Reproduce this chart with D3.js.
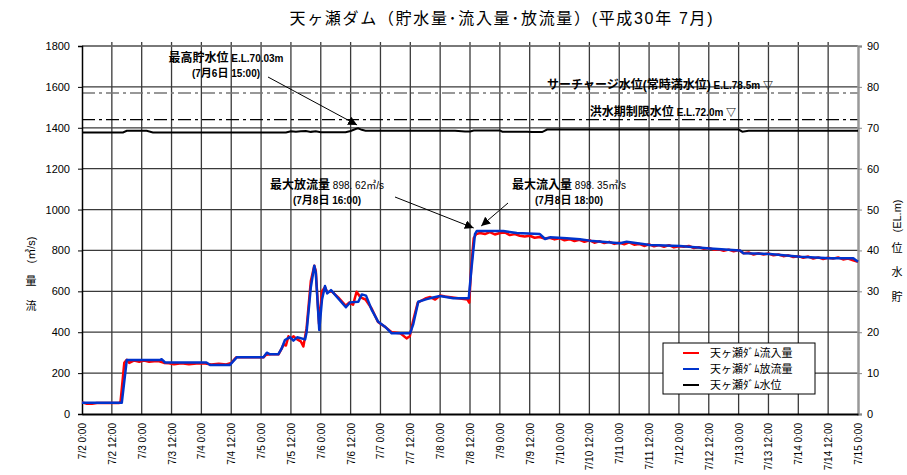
<!DOCTYPE html>
<html><head><meta charset="utf-8">
<script src="https://cdn.jsdelivr.net/npm/d3@7"></script>
<style>
body{margin:0;background:#fff;}
text{font-family:"Liberation Sans","Noto Sans CJK JP",sans-serif;}
</style></head>
<body><svg id="c" width="907" height="475"></svg>
<script>
// ---- data (hours from 7/2 0:00) ----
const xTickLabels = ["7/2 0:00","7/2 12:00","7/3 0:00","7/3 12:00","7/4 0:00","7/4 12:00","7/5 0:00","7/5 12:00","7/6 0:00","7/6 12:00","7/7 0:00","7/7 12:00","7/8 0:00","7/8 12:00","7/9 0:00","7/9 12:00","7/10 0:00","7/10 12:00","7/11 0:00","7/11 12:00","7/12 0:00","7/12 12:00","7/13 0:00","7/13 12:00","7/14 0:00","7/14 12:00","7/15 0:00"];
const leftTicks = [0,200,400,600,800,1000,1200,1400,1600,1800];
const rightTicks = [0,10,20,30,40,50,60,70,80,90];

const outflowHours = [0,16,18,31.4,32,33.4,50,51.5,59.5,60.2,62.2,72.9,74.3,75.6,78.9,80.3,81.6,83.6,85,86.5,89.7,90.3,92,93.4,94,95.4,96.5,97.7,98.6,100.1,106.1,107.8,111.1,112.5,114.2,116.5,119.1,121.8,124.5,131.9,133.2,135.2,138.6,141.2,143.9,149.3,155.5,156.5,158,158.7,169.4,174.8,184.1,186.2,188.2,194.9,200.2,204.2,216.3,219,228.4,240.4,252.5,264.6,265.9,276.6,288.7,300.7,310.1,312];
const outflowValues = [55,55,264,264,268,252,252,240,240,250,277,277,300,292,292,321,362,376,359,375,365,400,620,725,690,411,560,626,590,606,522,546,549,585,579,509,451,427,395,395,440,549,562,570,577,566,566,700,880,895,895,885,880,856,864,860,855,848,835,843,827,822,810,800,786,783,769,762,762,745];

const inflowHours = [0,2,4,6,15,15.5,17,18,19,21,23,25,27,29,31,33,35,37,40,43,46,49,52,55,58,60,62,73,74,76,79,80.5,81,82,83,84,85,86.5,88,89,90.3,92,93.4,94,95.3,96.5,97.7,98.6,100.4,103,106,107.5,109,110.4,112,114,116.5,119,122,124.5,128,130.5,131.8,133,135,138,140,142,144,146,149,152,155,155.7,156.5,157.5,158.5,160,162,164,166,168,170,172,174,176,178,180,182,184,186,188,190,192,194,196,198,200,202,204,206,208,210,212,214,216,218,220,222,224,226,228,230,232,234,236,238,240,242,244,246,248,250,252,254,256,258,260,262,264,266,268,270,272,274,276,278,280,282,284,286,288,290,292,294,296,298,300,302,304,306,308,310,312];
const inflowValues = [57,50,50,54,54,60,250,265,250,262,256,262,255,258,258,250,248,243,248,243,247,248,242,246,242,250,277,277,290,292,292,325,340,335,380,368,380,365,355,330,420,650,725,700,440,600,620,595,600,570,530,545,535,598,570,560,515,450,425,400,395,370,380,450,545,565,572,560,580,575,570,565,560,545,720,860,880,885,880,890,878,885,888,875,880,872,868,872,862,866,858,862,854,860,850,855,846,852,842,850,838,845,836,842,832,838,830,840,828,832,822,830,820,826,818,826,815,820,818,822,812,816,808,812,804,805,798,804,796,802,786,790,780,786,780,785,776,780,772,776,768,772,764,770,760,766,758,764,760,766,756,760,752,745];

const levelHours = [0,16.5,18,26,28.5,82,84,86,88,90,92,94,96,106,108,110,111,112.5,114,150,154,156,157.5,168,169,179,181,185,187,264,265.5,268,312];
const levelValues = [68.85,68.85,69.25,69.25,68.85,68.85,69.15,69.0,69.15,69.2,69.0,69.15,68.9,68.9,69.2,69.7,69.85,69.5,69.3,69.3,69.1,69.1,69.35,69.35,69.05,69.05,68.95,68.95,69.55,69.55,69.05,69.25,69.25];

const surchargeLevel = 78.5, floodLimitLevel = 72.0;
const seriesNames = ["天ヶ瀬ﾀﾞﾑ流入量","天ヶ瀬ﾀﾞﾑ放流量","天ヶ瀬ﾀﾞﾑ水位"];
const seriesColors = ["#ff0000","#0033cc","#000000"];

// ---- layout ----
const svg = d3.select("#c");
const L = 82, R = 858, T = 46, B = 414;
const x = d3.scaleLinear().domain([0,312]).range([L,R]);
const y = d3.scaleLinear().domain([0,1800]).range([B,T]);
const y2 = d3.scaleLinear().domain([0,90]).range([B,T]);
const xTickVals = xTickLabels.map((d,i)=>i*12);

// grid
const g = svg.append("g");
g.selectAll(".hg").data(leftTicks.slice(1)).join("line")
  .attr("x1",L).attr("x2",R).attr("y1",d=>y(d)).attr("y2",d=>y(d))
  .attr("stroke","#3a3a3a").attr("stroke-width",1.3);
g.selectAll(".vg").data(xTickVals.slice(1,-1)).join("line")
  .attr("x1",d=>x(d)).attr("x2",d=>x(d)).attr("y1",T-4).attr("y2",B)
  .attr("stroke","#3a3a3a").attr("stroke-width",1.3);
g.append("line").attr("x1",L).attr("x2",R).attr("y1",T).attr("y2",T).attr("stroke","#888").attr("stroke-width",1);

// reference levels
g.append("line").attr("x1",L).attr("x2",R).attr("y1",y2(surchargeLevel)).attr("y2",y2(surchargeLevel))
  .attr("stroke","#777").attr("stroke-width",1.3).attr("stroke-dasharray","13,4,3,4");
g.append("line").attr("x1",L).attr("x2",R).attr("y1",y2(floodLimitLevel)).attr("y2",y2(floodLimitLevel))
  .attr("stroke","#000").attr("stroke-width",1.2).attr("stroke-dasharray","13,4,3,4");

// axes
const axL = d3.axisLeft(y).tickValues(leftTicks).tickSize(4).tickFormat(d=>d);
const gl = svg.append("g").attr("transform",`translate(${L},0)`).call(axL);
gl.select(".domain").attr("stroke","#000").attr("stroke-width",1.5);
gl.selectAll("text").attr("font-size",11).attr("fill","#000").attr("x",-12);
const axR = d3.axisRight(y2).tickValues(rightTicks).tickSize(4).tickFormat(d=>d);
const gr = svg.append("g").attr("transform",`translate(${R},0)`).call(axR);
gr.select(".domain").attr("stroke","#999").attr("stroke-width",2.5);
gr.selectAll("line").attr("stroke","#888");
gr.selectAll("text").attr("font-size",11).attr("fill","#000").attr("x",9);
const axB = d3.axisBottom(x).tickValues(xTickVals).tickSize(0).tickFormat((d,i)=>xTickLabels[i]);
const gb = svg.append("g").attr("transform",`translate(0,${B})`).call(axB);
gb.select(".domain").attr("stroke","#000").attr("stroke-width",2);
gb.selectAll("text").attr("font-size",10).attr("fill","#000")
  .attr("transform","rotate(-90)").attr("text-anchor","end").attr("dy","0.35em").attr("x",-9).attr("y",0);

// series
const line = d3.line().x(d=>x(d[0])).y(d=>y(d[1]));
const line2 = d3.line().x(d=>x(d[0])).y(d=>y2(d[1]));
svg.append("path").datum(levelHours.map((h,i)=>[h,levelValues[i]])).attr("d",line2)
  .attr("fill","none").attr("stroke",seriesColors[2]).attr("stroke-width",2);
svg.append("path").datum(inflowHours.map((h,i)=>[h,inflowValues[i]])).attr("d",line)
  .attr("fill","none").attr("stroke",seriesColors[0]).attr("stroke-width",2.5).attr("stroke-linejoin","round");
svg.append("path").datum(outflowHours.map((h,i)=>[h,outflowValues[i]])).attr("d",line)
  .attr("fill","none").attr("stroke",seriesColors[1]).attr("stroke-width",2.5).attr("stroke-linejoin","round");

// title
svg.append("text").attr("x",501).attr("y",24).attr("text-anchor","middle").attr("font-size",16)
  .attr("textLength",423).attr("lengthAdjust","spacing")
  .text("天ヶ瀬ダム（貯水量･流入量･放流量）(平成30年 7月)");

// axis titles
function vlabel(cx, chars, cys, rotText, rotY){
  chars.forEach((c,i)=>svg.append("text").attr("x",cx).attr("y",cys[i]).attr("text-anchor","middle")
    .attr("dominant-baseline","central").attr("font-size",11).text(c));
  svg.append("text").attr("transform",`translate(${cx},${rotY}) rotate(-90)`).attr("text-anchor","middle")
    .attr("dominant-baseline","central").attr("font-size",11).text(rotText);
}
vlabel(31,["流","量"],[306,281],"(㎥/s)",250);
vlabel(897,["貯","水","位"],[297,272,248],"(EL.m)",216);

// annotations
svg.append("defs").append("marker").attr("id","ah").attr("viewBox","0 0 10 10").attr("refX",10).attr("refY",5)
  .attr("markerWidth",9).attr("markerHeight",9).attr("markerUnits","userSpaceOnUse").attr("orient","auto")
  .append("path").attr("d","M0,0L10,5L0,10z").attr("fill","#000");
function note(xs, ys, parts){
  const t = svg.append("text").attr("x",xs).attr("y",ys).attr("text-anchor","middle").attr("fill","#000");
  parts.forEach(p=>t.append("tspan").attr("font-size",p[1]).attr("font-weight",p[2]||"normal").text(p[0]));
}
function arrow(x1,y1,x2,y2){
  svg.append("line").attr("x1",x1).attr("y1",y1).attr("x2",x2).attr("y2",y2)
    .attr("stroke","#000").attr("stroke-width",1).attr("marker-end","url(#ah)");
}
note(226,62,[["最高貯水位",12,"bold"],[" E.L.70.03m",10,"bold"]]);
note(226,77,[["(7",10,"bold"],["月",11,"bold"],["6",10,"bold"],["日",11,"bold"],[" 15:00)",10,"bold"]]);
arrow(268,77,x(110.6),y2(69.95)-3);

note(660,89,[["サーチャージ水位(常時満水位)",12,"bold"],[" E.L.78.5m  ▽",10,"bold"]]);
note(663,116,[["洪水期制限水位",12,"bold"],["  E.L.72.0m  ▽",10,"bold"]]);

note(327,189,[["最大放流量",12,"bold"],[" 898. 62㎥/s",10,"normal"]]);
note(327,204,[["(7",10,"bold"],["月",11,"bold"],["8",10,"bold"],["日",11,"bold"],[" 16:00)",10,"bold"]]);
arrow(395,197,x(157.5),228);

note(569,189,[["最大流入量",12,"bold"],[" 898. 35㎥/s",10,"normal"]]);
note(569,204,[["(7",10,"bold"],["月",11,"bold"],["8",10,"bold"],["日",11,"bold"],[" 18:00)",10,"bold"]]);
arrow(508,203,x(160.5),226);

// legend
const lg = svg.append("g").attr("transform","translate(663,343)");
lg.append("rect").attr("width",152).attr("height",51).attr("fill","#fff").attr("stroke","#000").attr("stroke-width",1);
seriesNames.forEach((n,i)=>{
  const yy = 10 + i*16;
  lg.append("line").attr("x1",20).attr("x2",36).attr("y1",yy).attr("y2",yy).attr("stroke",seriesColors[i]).attr("stroke-width",2);
  lg.append("text").attr("x",47).attr("y",yy).attr("dominant-baseline","central").attr("font-size",11).text(n);
});
</script></body></html>
